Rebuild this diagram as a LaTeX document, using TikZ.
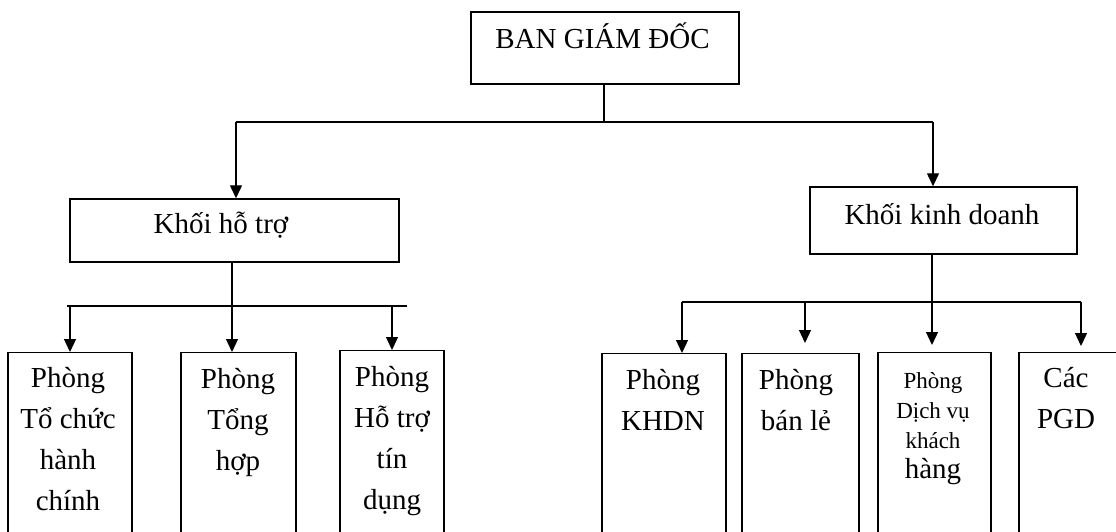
\documentclass[tikz,border=0pt]{standalone}
\usepackage{fontspec}
\setmainfont{Liberation Serif}
\usetikzlibrary{arrows.meta}
\begin{document}
\begin{tikzpicture}[x=1pt,y=-1pt,
  box/.style={draw, line width=1.4pt, inner sep=0pt},
  conn/.style={line width=1.3pt},
  arr/.style={conn, -{Triangle[length=13pt,width=12pt]}},
  lbl/.style={font=\fontsize{29}{41}\selectfont, align=center, inner sep=0pt, anchor=base},
  small/.style={font=\fontsize{23}{30}\selectfont, align=center, inner sep=0pt, anchor=base}]
\useasboundingbox (0,0) rectangle (1116,532);
\clip (0,0) rectangle (1116,532);
% top
\node[box, minimum width=268pt, minimum height=72pt] (bgd) at (605,48) {};
\node[lbl] (tbgd) at (602.5,49) {BAN GIÁM ĐỐC};
% level 2
\node[box, minimum width=329pt, minimum height=63pt] (ht) at (234.5,230.5) {};
\node[lbl] (tht) at (221,233) {Khối hỗ trợ};
\node[box, minimum width=267pt, minimum height=67pt] (kd) at (943.5,220.5) {};
\node[lbl] (tkd) at (942,224) {Khối kinh doanh};
% connectors top
\coordinate (j0) at (604,122);
\coordinate (jl) at (236,122);
\coordinate (jr) at (933,122);
\draw[conn] (bgd.south -| j0) -- (j0);
\draw[conn] (jl) -- (jr);
\draw[arr] (jl) -- (jl |- ht.north);
\draw[arr] (jr) -- (jr |- kd.north);
% left boxes
\node[box, minimum width=124pt, minimum height=200pt, anchor=north] (p1) at (70,352) {};
\node[box, minimum width=115pt, minimum height=200pt, anchor=north] (p2) at (238.5,352) {};
\node[box, minimum width=104pt, minimum height=200pt, anchor=north] (p3) at (392,350) {};
\node[lbl] (tp1) at (68,510) {Phòng\\Tổ chức\\hành\\chính};
\node[lbl] (tp2) at (238,470) {Phòng\\Tổng\\hợp};
\node[lbl] (tp3) at (392,509) {Phòng\\Hỗ trợ\\tín\\dụng};
% left bus
\coordinate (ls) at (232,306);
\coordinate (lb1) at (67,306);
\coordinate (lb2) at (407,306);
\draw[conn] (ht.south -| ls) -- (ls);
\draw[conn] (lb1) -- (lb2);
\draw[arr] (p1.north |- ls) -- (p1.north);
\draw[arr] (ls) -- (ls |- p2.north);
\draw[arr] (p3.north |- ls) -- (p3.north);
% right boxes
\node[box, minimum width=124pt, minimum height=200pt, anchor=north] (q1) at (664,353) {};
\node[box, minimum width=117pt, minimum height=200pt, anchor=north] (q2) at (800.5,353) {};
\node[box, minimum width=113pt, minimum height=200pt, anchor=north] (q3) at (934.5,352) {};
\node[box, minimum width=106pt, minimum height=200pt, anchor=north] (q4) at (1072,352) {};
\node[lbl] (tq1) at (663,430) {Phòng\\KHDN};
\node[lbl] (tq2) at (796,430) {Phòng\\bán lẻ};
\node[small] (tq3) at (933,478) {Phòng\\Dịch vụ\\khách\\{\fontsize{29}{32}\selectfont hàng}};
\node[lbl] (tq4) at (1066,428) {Các\\PGD};
% right bus
\coordinate (rs) at (932,302);
\coordinate (rb1) at (682,302);
\coordinate (rb2) at (805,302);
\coordinate (rb4) at (1081,302);
\draw[conn] (rb1) -- (rb4);
\draw[arr] (rb1) -- (rb1 |- q1.north);
\draw[arr, shorten >=10pt] (rb2) -- (rb2 |- q2.north);
\draw[arr, shorten >=7pt] (kd.south -| rs) -- (rs |- q3.north);
\draw[arr, shorten >=6pt] (rb4) -- (rb4 |- q4.north);
\end{tikzpicture}
\end{document}
